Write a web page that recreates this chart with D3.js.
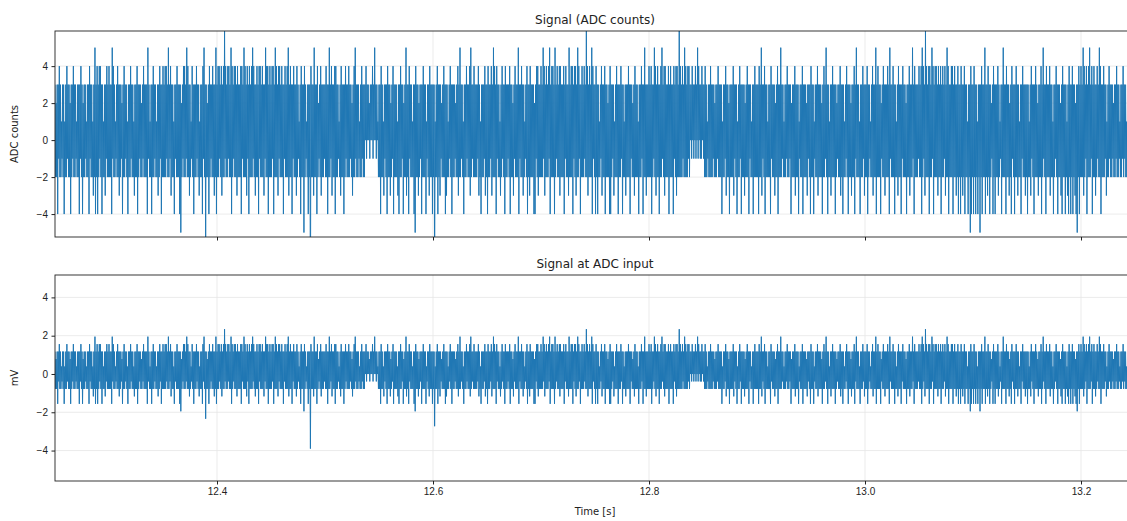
<!DOCTYPE html>
<html>
<head>
<meta charset="utf-8">
<script src="https://cdn.jsdelivr.net/npm/d3@7"></script>
<style>
  body { margin: 0; background: #fff; }
  svg { display: block; font-family: "DejaVu Sans", sans-serif; }
  .tick text { font-size: 10px; fill: #222; }
  .tick line { stroke: #222; }
</style>
</head>
<body>
<svg id="chart" width="1127" height="521"></svg>
<script>
// --- data: per-millisecond high / low of the ADC counts from 12.25 s ---
const tStart = 12.25;
const binStep = 0.001;
const mvPerCount = 0.39;

const countsHigh = [
  3,2,3,3,4,3,1,3,3,1, 3,4,3,3,2,3,3,4,3,3, 1,3,3,3,4,3,2,3,3,1, 3,3,4,3,3,1,3,5,3,4, 3,4,4,3,3,1,3,3,4,3,
  4,3,3,5,4,3,1,3,4,3, 3,3,2,3,4,3,3,1,3,3, 4,3,3,1,3,3,4,3,3,3, 2,3,4,3,3,3,5,3,1,3, 3,4,3,3,1,3,3,4,3,3,
  4,3,4,4,3,5,3,4,3,3, 1,3,3,4,3,3,3,2,3,4, 4,3,5,4,3,3,1,4,3,3, 3,4,3,3,1,3,3,4,5,3, 3,2,3,4,3,3,4,3,3,5,
  3,4,4,3,4,3,4,6,4,3, 4,4,3,5,4,3,4,4,3,4, 3,3,4,4,3,5,4,3,4,3, 4,3,4,5,4,3,3,4,3,4, 4,3,4,3,3,5,4,4,3,4,
  3,4,4,3,5,4,3,4,4,3, 4,3,3,4,3,4,5,3,4,3, 3,4,3,3,4,3,1,3,4,3, 3,4,3,1,3,3,3,4,3,3, 5,3,3,4,2,3,4,3,3,3,
  3,4,3,3,5,3,4,3,3,4, 4,3,3,1,3,4,3,3,3,4, 3,3,4,3,3,2,3,4,5,3, 3,3,1,3,4,3,3,3,4,3, 3,2,3,3,4,3,5,3,3,1,
  3,3,4,3,1,3,3,3,4,3, 3,2,3,4,3,3,3,1,3,3, 4,3,3,2,3,5,3,3,4,3, 3,1,3,3,4,3,3,2,3,3, 3,4,3,3,1,3,3,4,3,3,
  3,3,1,3,4,3,3,3,2,3, 4,3,3,3,1,3,4,3,3,3, 3,2,3,4,3,5,3,3,1,3, 3,4,3,3,4,5,3,3,4,3, 3,3,4,3,1,3,3,3,4,3,
  3,4,3,3,4,3,5,4,3,4, 3,3,1,3,4,3,3,4,3,3, 3,4,3,3,2,3,4,3,3,5, 3,3,4,3,3,1,3,4,3,3, 4,3,3,3,2,3,4,4,3,3,
  4,3,5,4,3,4,3,4,5,3, 4,4,3,5,3,4,3,4,4,3, 3,4,3,4,3,3,5,3,4,4, 3,4,4,3,5,4,3,3,4,3, 4,3,6,4,3,4,3,5,4,3,
  3,4,3,3,1,3,4,3,3,4, 3,3,2,3,4,3,3,3,1,3, 4,3,3,3,4,3,3,1,3,3, 3,4,3,3,3,2,3,4,3,3, 1,3,3,4,3,3,5,3,3,3,
  4,3,4,3,3,5,4,3,4,3, 3,4,5,3,4,4,3,3,4,3, 4,3,3,4,3,4,4,3,6,4, 3,4,3,5,4,3,4,4,3,3, 4,3,3,4,3,5,4,3,3,4,
  3,3,4,3,1,3,3,4,3,3, 3,2,3,3,4,3,3,3,1,3, 3,4,3,3,2,3,3,3,4,3, 3,3,1,3,4,3,3,3,3,2, 3,4,3,3,3,1,3,3,4,3,
  3,3,4,3,5,3,3,4,3,3, 1,3,3,4,3,3,3,2,3,4, 3,3,5,3,3,1,3,3,4,3, 3,3,2,3,3,4,3,3,3,1, 3,3,4,3,3,3,2,3,3,3,
  4,3,3,1,3,3,4,3,3,3, 2,3,4,3,5,3,3,1,3,3, 4,3,3,3,2,3,3,4,3,3, 3,1,3,4,3,3,3,2,3,3, 4,3,5,3,3,1,3,3,4,3,
  3,3,4,3,3,1,3,4,3,3, 5,3,4,3,3,2,3,4,3,3, 3,4,3,5,3,3,4,3,3,1, 3,4,3,3,3,4,3,3,2,3, 3,4,3,3,5,3,4,3,3,3,
  4,3,4,5,4,3,6,4,3,4, 4,3,5,4,3,4,4,3,4,3, 4,3,4,3,4,3,5,4,3,3, 4,4,3,4,3,3,4,3,3,4, 3,3,4,3,3,1,3,3,4,3,
  3,4,3,3,1,3,3,3,4,3, 3,5,3,3,4,3,3,2,3,4, 3,3,3,4,3,1,3,3,5,3, 3,4,3,3,2,3,4,3,3,3, 4,3,3,1,3,3,4,3,3,3,
  3,3,1,3,4,3,3,3,4,3, 2,3,3,4,3,5,3,3,4,3, 3,4,3,3,1,3,3,4,3,3, 3,2,3,4,3,3,3,1,3,4, 3,3,4,3,3,2,3,3,4,3,
  4,3,5,4,3,4,3,4,5,3, 4,3,4,3,3,4,3,5,4,3, 3,4,3,3,1,3,4,3,3,3, 2,3,3,4,3,3,1,3,3,4, 3,3,1,3,4,3,3,3,2,3
];

const countsLow = [
  -2,-2,-4,-1,-2,-2,-1,-2,-4,-2, -2,-1,-2,-2,-4,-2,-1,-2,-2,-1, -2,-2,-4,-1,-2,-4,-2,-2,-1,-2, -2,-4,-1,-2,-2,-3,-2,-4,-2,-4, -2,-1,-2,-4,-2,-2,-3,-1,-2,-2,
  -2,-2,-4,-1,-2,-2,-1,-2,-2,-3, -2,-1,-4,-2,-2,-1,-2,-4,-2,-2, -1,-2,-2,-3,-2,-2,-4,-2,-1,-2, -2,-1,-2,-2,-2,-4,-1,-2,-2,-4, -2,-2,-1,-2,-2,-3,-2,-1,-4,-2,
  -2,-2,-2,-1,-2,-2,-1,-3,-2,-2, -4,-1,-2,-2,-2,-4,-5,-2,-1,-2, -2,-1,-2,-2,-3,-2,-1,-2,-4,-2, -2,-1,-2,-3,-2,-2,-4,-1,-2,-6, -2,-2,-4,-2,-1,-2,-2,-3,-2,-4,
  -2,-2,-1,-2,-3,-2,-2,-1,-2,-2, -1,-2,-2,-4,-2,-1,-2,-2,-3,-2, -2,-2,-4,-1,-2,-2,-2,-3,-1,-4, -2,-2,-2,-1,-2,-3,-2,-2,-4,-1, -2,-2,-2,-3,-1,-2,-2,-4,-2,-2,
  -2,-1,-4,-2,-2,-2,-3,-1,-2,-2, -2,-4,-1,-2,-2,-2,-3,-2,-2,-4, -1,-2,-2,-3,-2,-1,-2,-4,-2,-2, -5,-2,-1,-2,-4,-2,-10,-2,-2,-3, -2,-2,-4,-2,-1,-2,-3,-2,-2,-1,
  -2,-2,-4,-2,-2,-1,-3,-2,-2,-4, -2,-2,-1,-2,-3,-2,-2,-4,-2,-1, -2,-2,-2,-1,-2,-3,-2,-2,-1,-2, -2,-1,-2,-2,-1,-2,-2,0,-1,0, 0,-1,0,0,-1,0,0,-1,0,-2,
  -2,-4,-2,-2,-3,-1,-2,-4,-2,-2, -3,-2,-1,-4,-2,-2,-2,-3,-4,-2, -2,-1,-4,-2,-2,-3,-2,-4,-1,-2, -2,-2,-4,-5,-2,-2,-3,-2,-1,-4, -2,-2,-2,-4,-1,-2,-3,-2,-2,-4,
  -2,-7,-2,-2,-4,-2,-3,-1,-2,-2, -2,-4,-3,-2,-2,-1,-2,-4,-2,-2, -1,-2,-2,-3,-2,-2,-1,-2,-4,-2, -2,-1,-2,-2,-3,-2,-1,-2,-2,-2, -2,-1,-3,-2,-4,-2,-2,-1,-3,-2,
  -4,-2,-2,-1,-3,-2,-2,-2,-4,-1, -2,-2,-3,-2,-1,-2,-4,-2,-2,-1, -2,-4,-2,-2,-3,-1,-2,-2,-2,-4, -1,-2,-2,-3,-2,-1,-2,-4,-2,-3, -2,-2,-2,-4,-4,-1,-2,-3,-2,-2,
  -2,-2,-1,-3,-2,-2,-2,-1,-4,-2, -2,-2,-4,-2,-1,-2,-2,-3,-2,-2, -2,-4,-1,-2,-2,-3,-2,-2,-2,-4, -1,-2,-3,-2,-2,-1,-4,-2,-2,-2, -1,-2,-2,-3,-2,-2,-2,-4,-1,-2,
  -4,-2,-4,-2,-2,-1,-3,-2,-2,-4, -2,-2,-2,-4,-4,-2,-1,-3,-2,-2, -2,-4,-2,-2,-1,-4,-2,-2,-3,-2, -2,-2,-4,-1,-2,-2,-3,-2,-2,-2, -4,-2,-2,-1,-4,-2,-2,-3,-2,-2,
  -2,-2,-4,-2,-1,-2,-3,-2,-2,-4, -2,-2,-1,-2,-3,-2,-2,-2,-4,-2, -2,-2,-4,-1,-2,-3,-2,-2,-2,-2, -2,-1,-2,-2,-2,-2,-1,-2,0,-1, 0,-1,0,-1,0,-1,0,-1,-1,0,
  -1,-2,-2,-2,-1,-2,-2,-2,-2,-1, -2,-2,-2,-1,-2,-2,-2,-4,-2,-2, -1,-3,-2,-2,-4,-2,-2,-2,-3,-1, -2,-4,-2,-2,-1,-4,-2,-2,-3,-2, -2,-2,-4,-1,-2,-2,-4,-2,-2,-2,
  -2,-4,-2,-2,-3,-1,-2,-4,-2,-2, -2,-2,-4,-1,-2,-2,-3,-2,-2,-4, -2,-2,-2,-1,-2,-2,-2,-1,-2,-2, -1,-4,-2,-2,-2,-3,-2,-2,-4,-1, -2,-2,-4,-2,-2,-2,-3,-1,-2,-4,
  -2,-2,-4,-1,-2,-2,-3,-2,-2,-2, -4,-2,-2,-1,-2,-4,-2,-2,-3,-2, -2,-2,-4,-2,-1,-2,-2,-3,-2,-4, -2,-2,-1,-2,-4,-2,-2,-3,-2,-2, -4,-1,-2,-2,-2,-4,-2,-2,-1,-3,
  -2,-2,-4,-2,-1,-2,-2,-3,-2,-2, -4,-2,-2,-2,-4,-1,-2,-2,-3,-2, -2,-2,-4,-1,-2,-2,-2,-4,-2,-2, -3,-2,-2,-4,-1,-2,-2,-2,-4,-2, -2,-3,-2,-2,-1,-4,-2,-2,-2,-1,
  -2,-2,-4,-2,-1,-3,-2,-2,-2,-4, -2,-2,-1,-4,-2,-2,-2,-3,-2,-2, -4,-2,-2,-1,-3,-2,-2,-4,-2,-2, -2,-4,-2,-2,-3,-2,-4,-2,-4,-2, -3,-2,-4,-2,-2,-4,-2,-5,-4,-2,
  -4,-2,-4,-2,-4,-2,-5,-2,-4,-2, -2,-4,-2,-3,-2,-4,-2,-1,-4,-2, -4,-2,-2,-3,-2,-1,-4,-2,-2,-2, -4,-2,-2,-3,-2,-4,-1,-2,-4,-2, -2,-3,-2,-2,-4,-1,-2,-2,-3,-2,
  -4,-2,-2,-3,-1,-2,-4,-2,-2,-2, -3,-2,-2,-4,-2,-1,-2,-4,-2,-2, -2,-3,-2,-2,-4,-2,-1,-2,-4,-2, -2,-3,-4,-2,-2,-4,-2,-3,-4,-2, -4,-2,-4,-2,-3,-4,-5,-2,-4,-2,
  -2,-2,-3,-2,-1,-4,-2,-2,-2,-1, -4,-2,-2,-3,-2,-1,-2,-2,-4,-2, -2,-2,-1,-3,-2,-2,-1,-2,-2,-1, -2,-2,-1,-2,-2,-1,-2,-2,-1,-2, -1,-2,-2,-1,-2,-4,-1,-2,-2,-1
];

const xDomain = [12.25, 13.25];
const xTicks = [12.4, 12.6, 12.8, 13.0, 13.2];
const countsDomain = [-5.24, 5.9];
const countsTicks = [-4, -2, 0, 2, 4];
const mvDomain = [-5.59, 5.17];
const mvTicks = [-4, -2, 0, 2, 4];

// trace: each bin goes up to its high, then down to its low
const samples = [];
countsHigh.forEach((hi, i) => {
  const t = tStart + i * binStep;
  const lo = countsLow[i];
  samples.push({ t, counts: hi, mv: hi * mvPerCount });
  samples.push({ t: t + binStep / 2, counts: lo, mv: lo * mvPerCount });
});

// --- layout ---
const svg = d3.select('#chart');
const left = 55, right = 1135;
const panels = [
  { top: 31, bottom: 237, key: 'counts', domain: countsDomain, ticks: countsTicks,
    title: 'Signal (ADC counts)', ylabel: 'ADC counts', xLabels: false },
  { top: 275, bottom: 481, key: 'mv', domain: mvDomain, ticks: mvTicks,
    title: 'Signal at ADC input', ylabel: 'mV', xLabels: true }
];

const x = d3.scaleLinear().domain(xDomain).range([left, right]);

panels.forEach((p, pi) => {
  const y = d3.scaleLinear().domain(p.domain).range([p.bottom, p.top]);
  const g = svg.append('g');

  // grid
  g.append('g').selectAll('line').data(xTicks).join('line')
    .attr('x1', d => x(d)).attr('x2', d => x(d))
    .attr('y1', p.top).attr('y2', p.bottom)
    .attr('stroke', '#e6e6e6').attr('stroke-width', 0.8);
  g.append('g').selectAll('line').data(p.ticks).join('line')
    .attr('x1', left).attr('x2', right)
    .attr('y1', d => y(d)).attr('y2', d => y(d))
    .attr('stroke', '#e6e6e6').attr('stroke-width', 0.8);

  // signal, clipped to the axes box
  const clipId = 'clip' + pi;
  svg.append('clipPath').attr('id', clipId)
    .append('rect').attr('x', left).attr('y', p.top)
    .attr('width', right - left).attr('height', p.bottom - p.top);

  const line = d3.line().x(d => x(d.t)).y(d => y(d[p.key]));
  g.append('path')
    .datum(samples)
    .attr('clip-path', `url(#${clipId})`)
    .attr('d', line)
    .attr('fill', 'none')
    .attr('stroke', '#1f77b4')
    .attr('stroke-width', 1);

  // axes
  const yAxis = d3.axisLeft(y).tickValues(p.ticks).tickSize(3.5).tickPadding(3.5)
    .tickFormat(d => d < 0 ? '\u2212' + Math.abs(d) : d);
  g.append('g').attr('transform', `translate(${left},0)`).call(yAxis)
    .call(a => a.select('.domain').remove());

  const xAxis = d3.axisBottom(x).tickValues(xTicks).tickSize(3.5).tickPadding(3.5)
    .tickFormat(p.xLabels ? d3.format('.1f') : '');
  g.append('g').attr('transform', `translate(0,${p.bottom})`).call(xAxis)
    .call(a => a.select('.domain').remove());

  // frame
  g.append('rect')
    .attr('x', left).attr('y', p.top)
    .attr('width', right - left).attr('height', p.bottom - p.top)
    .attr('fill', 'none').attr('stroke', '#222').attr('stroke-width', 0.9);

  // title + y label
  g.append('text')
    .attr('x', (left + right) / 2).attr('y', p.top - 7)
    .attr('text-anchor', 'middle').attr('font-size', 12).attr('fill', '#222')
    .text(p.title);
  g.append('text')
    .attr('transform', `translate(18,${(p.top + p.bottom) / 2}) rotate(-90)`)
    .attr('text-anchor', 'middle').attr('font-size', 10).attr('fill', '#222')
    .text(p.ylabel);
});

svg.append('text')
  .attr('x', (left + right) / 2).attr('y', 515)
  .attr('text-anchor', 'middle').attr('font-size', 10).attr('fill', '#222')
  .text('Time [s]');
</script>
</body>
</html>
